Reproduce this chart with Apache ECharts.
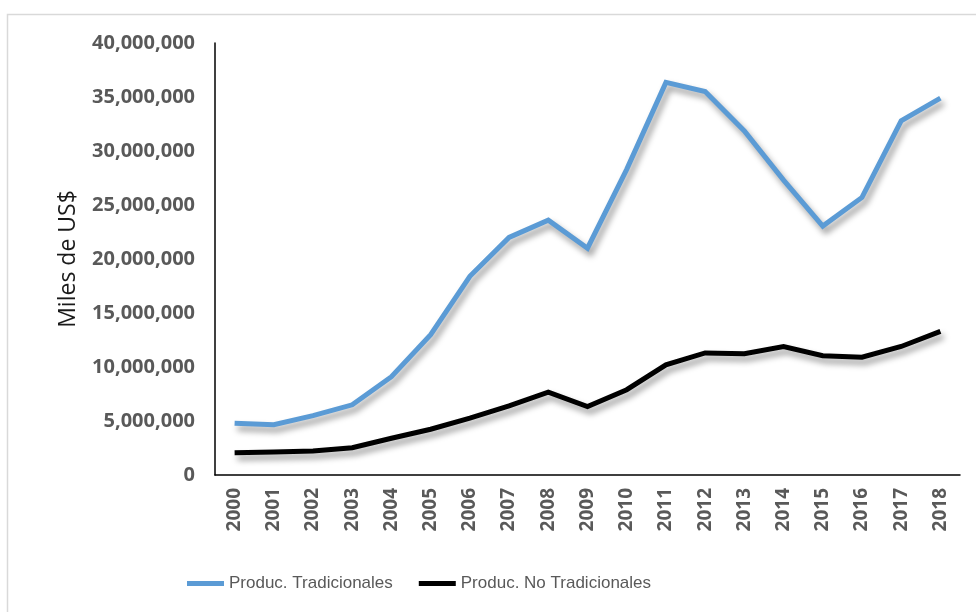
<!DOCTYPE html>
<html>
<head>
<meta charset="utf-8">
<script src="https://cdn.jsdelivr.net/npm/echarts@6/dist/echarts.min.js"></script>
<style>html,body{margin:0;padding:0;background:#fff;}#c{width:976px;height:612px;}</style>
</head>
<body>
<div id="c"></div>
<script>
const years = ['2000','2001','2002','2003','2004','2005','2006','2007','2008','2009','2010','2011','2012','2013','2014','2015','2016','2017','2018'];
const tradicionales = [4800000, 4650000, 5500000, 6500000, 9100000, 13000000, 18400000, 22000000, 23600000, 21000000, 28300000, 36350000, 35500000, 31850000, 27300000, 23050000, 25700000, 32800000, 34900000];
const noTradicionales = [2070000, 2130000, 2230000, 2530000, 3400000, 4240000, 5260000, 6400000, 7670000, 6340000, 7900000, 10200000, 11300000, 11230000, 11900000, 11040000, 10900000, 11900000, 13300000];
const seriesNames = ['Produc. Tradicionales', 'Produc. No Tradicionales'];
const yTickStep = 5000000;
const yMax = 40000000;

const chart = echarts.init(document.getElementById('c'));
const shadow = {shadowColor: 'rgba(0,0,0,0.4)', shadowBlur: 6, shadowOffsetX: 3, shadowOffsetY: 5};
chart.setOption({
  animation: false,
  backgroundColor: '#fff',
  graphic: [
    {type: 'rect', left: 5, top: 12, shape: {width: 1000, height: 700}, style: {fill: 'none', stroke: '#d9d9d9', lineWidth: 1.5}, z: -10}
  ],
  legend: {
    left: 182,
    top: 570,
    data: seriesNames,
    icon: 'rect',
    itemWidth: 37,
    itemHeight: 5,
    itemGap: 26,
    textStyle: {fontFamily: 'Liberation Sans', fontSize: 17, color: '#595959'}
  },
  grid: {left: 215, right: 16, top: 43, bottom: 137, containLabel: false},
  xAxis: {
    type: 'category',
    data: years,
    boundaryGap: true,
    axisLine: {lineStyle: {color: '#000', width: 1.5}},
    axisTick: {show: false},
    axisLabel: {rotate: 90, margin: 13, fontFamily: 'Open Sans', fontWeight: 'bold', fontSize: 19, color: '#595959'}
  },
  yAxis: {
    type: 'value',
    min: 0,
    max: yMax,
    interval: yTickStep,
    name: 'Miles de US$',
    nameLocation: 'middle',
    nameGap: 135,
    nameRotate: 90,
    nameTextStyle: {fontFamily: 'Open Sans', fontSize: 23, color: '#1a1a1a'},
    splitLine: {show: false},
    axisLine: {show: true, lineStyle: {color: '#000', width: 1.5}},
    axisTick: {show: false},
    axisLabel: {margin: 20, fontFamily: 'Open Sans', fontWeight: 'bold', fontSize: 20, color: '#595959',
      formatter: v => v.toLocaleString('en-US')}
  },
  series: [
    {name: seriesNames[0], type: 'line', data: tradicionales, symbol: 'none', color: '#5B9BD5',
     lineStyle: Object.assign({width: 5, color: '#5B9BD5', join: 'miter'}, shadow)},
    {name: seriesNames[1], type: 'line', data: noTradicionales, symbol: 'none', color: '#000',
     lineStyle: Object.assign({width: 5, color: '#000', join: 'miter'}, shadow)}
  ]
});
</script>
</body>
</html>
